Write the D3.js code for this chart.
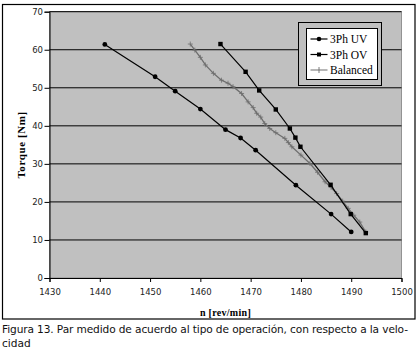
<!DOCTYPE html>
<html>
<head>
<meta charset="utf-8">
<script src="https://cdn.jsdelivr.net/npm/d3@7/dist/d3.min.js"></script>
<style>
  body { margin: 0; background: #fff; }
  svg { display: block; }
</style>
</head>
<body>
<svg id="chart"></svg>
<script>
// measured torque vs speed
var uvSpeed = [1441, 1451, 1455, 1460, 1465, 1468, 1471, 1479, 1486, 1490];
var uvTorque = [61.4, 52.9, 49.1, 44.4, 39.0, 36.8, 33.6, 24.4, 16.8, 12.1];

var ovSpeed = [1464, 1469, 1471.7, 1475, 1477.8, 1478.9, 1479.9, 1485.9, 1489.9, 1492.9];
var ovTorque = [61.5, 54.2, 49.3, 44.3, 39.3, 36.9, 34.5, 24.5, 16.8, 11.8];

var balSpeed = [1458, 1458.9, 1460, 1461, 1462.6, 1464.2, 1465.5, 1466.5, 1468.2, 1469.5,
  1470.5, 1471.2, 1472, 1472.8, 1473.8, 1475, 1476.8, 1477.5, 1478.2, 1480,
  1481.8, 1483.3, 1484.8, 1486, 1487.1, 1488.3, 1489.4, 1490.5, 1491.7, 1492.9];
var balTorque = [61.5, 59.9, 58, 56, 53.8, 52, 51.2, 50.3, 48.5, 46.3,
  44.8, 43.3, 42.3, 40.6, 39.3, 38.2, 36.7, 35.6, 34.5, 32.3,
  30.1, 27.8, 25.3, 23.8, 22.2, 20.2, 18.3, 16.5, 14.7, 12.1];

var seriesNames = ["3Ph UV", "3Ph OV", "Balanced"];
var xTicks = [1430, 1440, 1450, 1460, 1470, 1480, 1490, 1500];
var yTicks = [0, 10, 20, 30, 40, 50, 60, 70];
var captionLines = ["Figura 13. Par medido de acuerdo al tipo de operación, con respecto a la velo-", "cidad"];

var width = 419, height = 354;
var svg = d3.select("#chart").attr("width", width).attr("height", height);

var margin = {top: 11.7, right: 17.5, bottom: 76, left: 49.5};
var w = width - margin.left - margin.right,
    h = height - margin.top - margin.bottom;

// outer chart frame
svg.append("rect")
    .attr("x", 2.5).attr("y", 4.5)
    .attr("width", 412.5).attr("height", 314.5)
    .attr("fill", "#fff").attr("stroke", "#000").attr("stroke-width", 1.2);

var g = svg.append("g")
    .attr("transform", "translate(" + margin.left + "," + margin.top + ")");

var x = d3.scaleLinear().domain([1430, 1500]).range([0, w]);
var y = d3.scaleLinear().domain([0, 70]).range([h, 0]);

g.append("rect")
    .attr("width", w).attr("height", h)
    .attr("fill", "#c0c0c0")
    .attr("stroke", "#808080").attr("stroke-width", 0.8);

// gridlines
g.selectAll("line.grid")
    .data(yTicks.filter(function(d) { return d > 0; }))
    .enter().append("line")
    .attr("class", "grid")
    .attr("x1", 0).attr("x2", w)
    .attr("y1", function(d) { return y(d); })
    .attr("y2", function(d) { return y(d); })
    .attr("stroke", "#000").attr("stroke-width", 1);

var xAxis = g.append("g")
    .attr("transform", "translate(0," + h + ")")
    .call(d3.axisBottom(x).tickValues(xTicks).tickSize(4).tickFormat(d3.format("d")));
var yAxis = g.append("g")
    .call(d3.axisLeft(y).tickValues(yTicks).tickSize(5));

[xAxis, yAxis].forEach(function(a) {
    a.select(".domain").attr("stroke", "#000");
    a.selectAll(".tick line").attr("stroke", "#000");
    a.selectAll("text")
        .attr("font-family", "DejaVu Sans, sans-serif")
        .attr("font-size", 8.5)
        .attr("fill", "#222");
});
xAxis.selectAll("text").attr("dy", "1.15em");
yAxis.selectAll("text").attr("x", -6.5);

var line = d3.line()
    .x(function(d) { return x(d[0]); })
    .y(function(d) { return y(d[1]); });

var uv = d3.zip(uvSpeed, uvTorque);
var ov = d3.zip(ovSpeed, ovTorque);
var bal = d3.zip(balSpeed, balTorque);

g.append("path").datum(bal).attr("d", line)
    .attr("fill", "none").attr("stroke", "#6e6e6e").attr("stroke-width", 1.3);
g.selectAll("path.bal")
    .data(bal).enter().append("path")
    .attr("class", "bal")
    .attr("d", function(d) {
        var px = x(d[0]), py = y(d[1]);
        return "M" + (px - 2.5) + "," + py + "H" + (px + 2.5) + "M" + px + "," + (py - 2.5) + "V" + (py + 2.5);
    })
    .attr("stroke", "#6e6e6e").attr("stroke-width", 0.8);

g.append("path").datum(ov).attr("d", line)
    .attr("fill", "none").attr("stroke", "#000").attr("stroke-width", 1.2);
g.selectAll("rect.ov")
    .data(ov).enter().append("rect")
    .attr("class", "ov")
    .attr("x", function(d) { return x(d[0]) - 2.2; })
    .attr("y", function(d) { return y(d[1]) - 2.2; })
    .attr("width", 4.4).attr("height", 4.4)
    .attr("fill", "#000");

g.append("path").datum(uv).attr("d", line)
    .attr("fill", "none").attr("stroke", "#000").attr("stroke-width", 1.2);
g.selectAll("circle.uv")
    .data(uv).enter().append("circle")
    .attr("class", "uv")
    .attr("cx", function(d) { return x(d[0]); })
    .attr("cy", function(d) { return y(d[1]); })
    .attr("r", 2.4)
    .attr("fill", "#000");

// legend
var leg = svg.append("g");
leg.append("rect")
    .attr("x", 298.5).attr("y", 22.5).attr("width", 83).attr("height", 63)
    .attr("fill", "#c0c0c0").attr("stroke", "#000").attr("stroke-width", 1);
leg.append("rect")
    .attr("x", 306.5).attr("y", 28.5).attr("width", 71).attr("height", 51)
    .attr("fill", "#fff").attr("stroke", "#000").attr("stroke-width", 1);

seriesNames.forEach(function(name, i) {
    var ly = 39 + i * 15.5;
    var col = i === 2 ? "#6e6e6e" : "#000";
    leg.append("line")
        .attr("x1", 310.5).attr("x2", 327.5).attr("y1", ly).attr("y2", ly)
        .attr("stroke", col).attr("stroke-width", i === 2 ? 1 : 1.2);
    if (i === 0) {
        leg.append("circle").attr("cx", 319).attr("cy", ly).attr("r", 2.3).attr("fill", "#000");
    } else if (i === 1) {
        leg.append("rect").attr("x", 317).attr("y", ly - 2).attr("width", 4).attr("height", 4).attr("fill", "#000");
    } else {
        leg.append("line").attr("x1", 319).attr("x2", 319).attr("y1", ly - 3).attr("y2", ly + 3)
            .attr("stroke", col).attr("stroke-width", 0.9);
    }
    leg.append("text")
        .attr("x", 330).attr("y", ly + 4)
        .attr("font-family", "Liberation Serif, Times New Roman, serif")
        .attr("font-size", 11.5)
        .attr("fill", "#000")
        .text(name);
});

// axis titles
svg.append("text")
    .attr("x", margin.left + w / 2).attr("y", 316)
    .attr("text-anchor", "middle")
    .attr("font-family", "Liberation Serif, serif")
    .attr("font-weight", "bold").attr("font-size", 10)
    .attr("letter-spacing", 0.3)
    .text("n  [rev/min]");

svg.append("text")
    .attr("transform", "translate(25," + (margin.top + h / 2) + ") rotate(-90)")
    .attr("text-anchor", "middle")
    .attr("font-family", "Liberation Serif, serif")
    .attr("font-weight", "bold").attr("font-size", 11)
    .attr("letter-spacing", 0.6)
    .text("Torque  [Nm]");

// caption, two separate lines
svg.append("text")
    .attr("x", 2).attr("y", 333)
    .attr("font-family", "DejaVu Sans, sans-serif")
    .attr("font-size", 10.6).attr("fill", "#111")
    .attr("textLength", 406).attr("lengthAdjust", "spacing")
    .text(captionLines[0]);
svg.append("text")
    .attr("x", 2).attr("y", 347)
    .attr("font-family", "DejaVu Sans, sans-serif")
    .attr("font-size", 10.6).attr("fill", "#111")
    .text(captionLines[1]);
</script>
</body>
</html>
